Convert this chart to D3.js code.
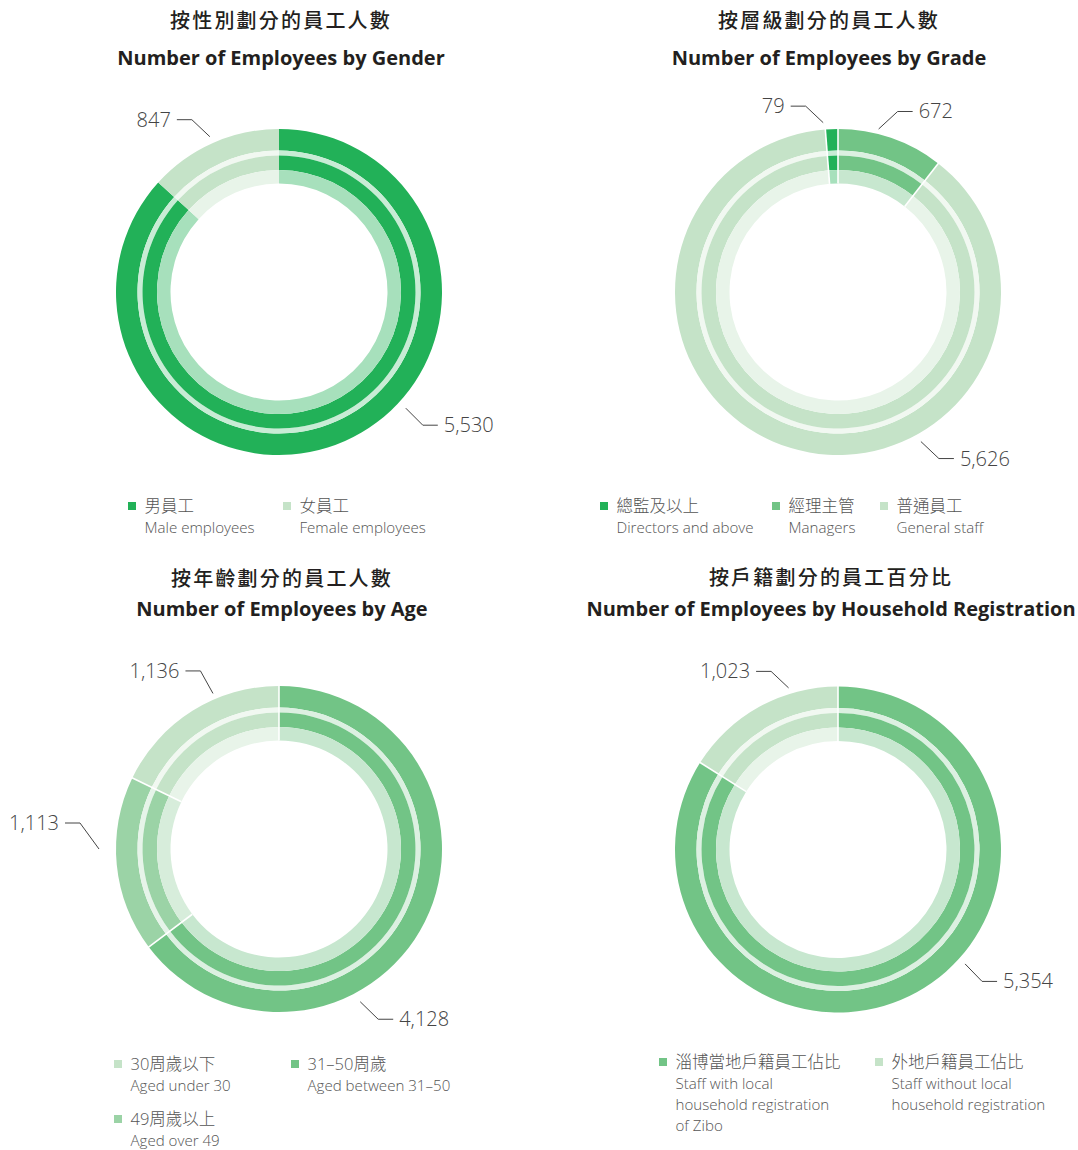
<!DOCTYPE html>
<html>
<head>
<meta charset="utf-8">
<script src="https://cdn.jsdelivr.net/npm/d3@7/dist/d3.min.js"></script>
<style>
  body { margin: 0; background: #fff; }
  svg text { font-family: "Open Sans", "Noto Sans CJK TC", sans-serif; }
</style>
</head>
<body>
<svg id="chart" width="1078" height="1150"></svg>
<script>
//data
var genderKeys = ["男員工", "女員工"],
    genderKeysEn = [["Male employees"], ["Female employees"]],
    genderValues = [5530, 847];

var gradeKeys = ["總監及以上", "經理主管", "普通員工"],
    gradeKeysEn = [["Directors and above"], ["Managers"], ["General staff"]],
    gradeValues = [79, 672, 5626];

var ageKeys = ["30周歲以下", "31–50周歲", "49周歲以上"],
    ageKeysEn = [["Aged under 30"], ["Aged between 31–50"], ["Aged over 49"]],
    ageValues = [1136, 4128, 1113];

var hhKeys = ["淄博當地戶籍員工佔比", "外地戶籍員工佔比"],
    hhKeysEn = [["Staff with local", "household registration", "of Zibo"], ["Staff without local", "household registration"]],
    hhValues = [5354, 1023];

//layout
var charts = [
  { zh: "按性別劃分的員工人數", en: "Number of Employees by Gender", tx: 281, ty: 28, ten: 37,
    keys: genderKeys, keysEn: genderKeysEn, values: genderValues,
    colors: ["#22b158", "#c5e3c8"], cx: 279, cy: 292, firstEndsAtTop: false, sep: 0,
    labels: [[1, -24, 170, -18, -17], [0, 132.5, 172, 17, 17]],
    legend: [[128, 506], [283, 506]] },
  { zh: "按層級劃分的員工人數", en: "Number of Employees by Grade", tx: 829, ty: 28, ten: 37,
    keys: gradeKeys, keysEn: gradeKeysEn, values: gradeValues,
    colors: ["#22b158", "#72c486", "#c5e3c8"], cx: 838, cy: 292, firstEndsAtTop: true, sep: 1.6,
    labels: [[0, -5, 170, -17.5, -16.5], [1, 14, 168, 19, -17.5], [2, 151, 171, 18, 17]],
    legend: [[600, 506], [772, 506], [880, 506]] },
  { zh: "按年齡劃分的員工人數", en: "Number of Employees by Age", tx: 282, ty: 586, ten: 30,
    keys: ageKeys, keysEn: ageKeysEn, values: ageValues,
    colors: ["#c5e3c8", "#72c486", "#9bd3a6"], cx: 279, cy: 849, firstEndsAtTop: true, sep: 1.6,
    labels: [[0, -23, 169, -12.5, -22.5], [2, -90, 180, -19, -26], [1, 152, 173, 18, 17.5]],
    legend: [[114, 1064], [291, 1064], [114, 1119]] },
  { zh: "按戶籍劃分的員工百分比", en: "Number of Employees by Household Registration", tx: 831, ty: 585, ten: 31,
    keys: hhKeys, keysEn: hhKeysEn, values: hhValues,
    colors: ["#72c486", "#c5e3c8"], cx: 838, cy: 849.5, firstEndsAtTop: false, sep: 1.6,
    labels: [[1, -17, 169, -17.5, -16.5], [0, 132, 171, 17, 17.5]],
    legend: [[659, 1062], [875, 1062]] }
];

// rings: outer band, pale gap band, middle band, inner light band
var rings = [
  { r0: 141.5, r1: 163, mix: 0 },
  { r0: 136.5, r1: 141.5, mix: 0.75 },
  { r0: 122, r1: 136.5, mix: 0 },
  { r0: 108.5, r1: 122, mix: 0.6 }
];

var svg = d3.select("#chart");
var rad = Math.PI / 180;

function printDonut(c) {
  var g = svg.append("g");
  // titles
  g.append("text").attr("x", c.tx).attr("y", c.ty).attr("text-anchor", "middle")
   .attr("font-size", 20).attr("letter-spacing", 2.2).attr("font-weight", 500)
   .attr("font-family", "'Noto Sans CJK TC', sans-serif").attr("fill", "#231f20").text(c.zh);
  g.append("text").attr("x", c.tx).attr("y", c.ty + c.ten).attr("text-anchor", "middle")
   .attr("font-size", 20).attr("font-weight", 700).attr("fill", "#231f20")
   .text(c.en);

  var total = d3.sum(c.values);
  var start = c.firstEndsAtTop ? -2 * Math.PI * c.values[0] / total : 0;
  var pie = d3.pie().sort(null).value(function(d) { return d; })
              .startAngle(start).endAngle(start + 2 * Math.PI);
  var arcsData = pie(c.values);

  var donut = g.append("g").attr("transform", "translate(" + c.cx + "," + c.cy + ")");
  rings.forEach(function(ring) {
    var arc = d3.arc().innerRadius(ring.r0).outerRadius(ring.r1);
    donut.selectAll(null).data(arcsData).enter().append("path")
         .attr("d", arc)
         .attr("fill", function(d, i) { return d3.interpolateRgb(c.colors[i], "#ffffff")(ring.mix); });
  });
  // white separators
  if (c.sep > 0) {
    arcsData.forEach(function(d) {
      var a = d.startAngle;
      donut.append("line")
           .attr("x1", rings[3].r0 * Math.sin(a)).attr("y1", -rings[3].r0 * Math.cos(a))
           .attr("x2", (rings[0].r1 + 1) * Math.sin(a)).attr("y2", -(rings[0].r1 + 1) * Math.cos(a))
           .attr("stroke", "#fff").attr("stroke-width", c.sep);
    });
  }

  // value labels with leader lines
  var fmt = d3.format(",");
  c.labels.forEach(function(l) {
    var a = l[1] * rad, r = l[2],
        px = c.cx + r * Math.sin(a), py = c.cy - r * Math.cos(a),
        qx = px + l[3], qy = py + l[4],
        side = l[3] < 0 ? -1 : 1,
        ex = qx + side * 15;
    g.append("polyline").attr("points", [px, py, qx, qy, ex, qy].join(" "))
     .attr("fill", "none").attr("stroke", "#444").attr("stroke-width", 1);
    g.append("text").attr("x", ex + side * 6).attr("y", qy).attr("dy", "0.35em")
     .attr("text-anchor", side < 0 ? "end" : "start")
     .attr("font-size", 20).attr("font-weight", 300).attr("fill", "#444")
     .text(fmt(c.values[l[0]]));
  });

  // legend
  c.keys.forEach(function(k, i) {
    var lx = c.legend[i][0], ly = c.legend[i][1];
    g.append("rect").attr("x", lx).attr("y", ly - 4).attr("width", 8).attr("height", 8)
     .attr("fill", c.colors[i]);
    g.append("text").attr("x", lx + 16.5).attr("y", ly).attr("dy", "0.35em")
     .attr("font-size", 16.5).attr("font-weight", 300).attr("fill", "#555")
     .attr("font-family", "'Open Sans', 'Noto Sans CJK TC', sans-serif").text(k);
    c.keysEn[i].forEach(function(line, j) {
      g.append("text").attr("x", lx + 16.5).attr("y", ly + 22 + j * 21).attr("dy", "0.35em")
       .attr("font-size", 15.1).attr("font-weight", 300).attr("fill", "#555")
       .text(line);
    });
  });
}

charts.forEach(printDonut);
</script>
</body>
</html>
